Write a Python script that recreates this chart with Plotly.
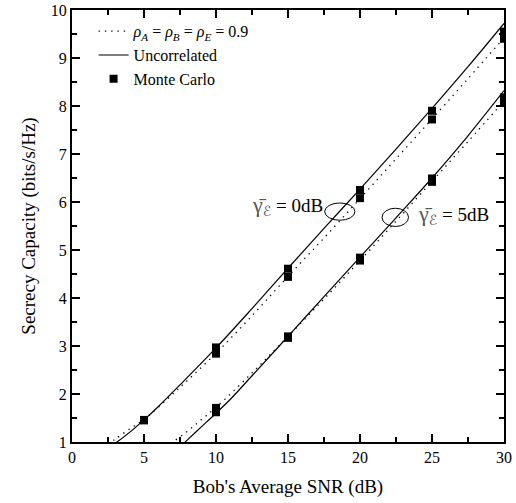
import plotly.graph_objects as go

# Analytical curves, γE = 0 dB
snr_unc_0 = [2.5, 3, 4, 5, 6, 7.5, 10, 12.5, 15, 17.5, 20, 22.5, 25, 27.5, 30]
cap_unc_0 = [0.86, 0.97, 1.2, 1.46, 1.74, 2.19, 2.96, 3.78, 4.62, 5.45, 6.27, 7.1, 7.95, 8.82, 9.72]
snr_cor_0 = [2.5, 3, 4, 5, 7.5, 10, 12.5, 15, 17.5, 20, 22.5, 25, 27.5, 30]
cap_cor_0 = [0.95, 1.06, 1.27, 1.47, 2.14, 2.85, 3.63, 4.45, 5.25, 6.07, 6.9, 7.73, 8.57, 9.42]

# Analytical curves, γE = 5 dB
snr_unc_5 = [7.5, 8, 9, 10, 11, 12.5, 15, 17.5, 20, 22.5, 25, 27.5, 30]
cap_unc_5 = [0.9, 1.04, 1.32, 1.6, 1.89, 2.38, 3.2, 4.03, 4.85, 5.67, 6.5, 7.38, 8.32]
snr_cor_5 = [6.5, 7, 8, 9, 10, 12.5, 15, 17.5, 20, 22.5, 25, 27.5, 30]
cap_cor_5 = [0.9, 1.0, 1.22, 1.47, 1.72, 2.44, 3.2, 3.98, 4.78, 5.6, 6.43, 7.26, 8.1]

# Monte Carlo simulation points
mc_snr = [5, 10, 15, 20, 25, 30]
mc_unc_0 = [1.46, 2.97, 4.61, 6.25, 7.90, 9.55]
mc_cor_0 = [1.45, 2.84, 4.44, 6.08, 7.72, 9.40]
mc_snr_5 = [10, 15, 20, 25, 30]
mc_unc_5 = [1.62, 3.20, 4.84, 6.49, 8.18]
mc_cor_5 = [1.71, 3.17, 4.78, 6.42, 8.08]

# Ellipses marking the two curve families: (center x, center y, half width, half height)
ellipse_0 = [18.6, 5.8, 1.05, 0.18]
ellipse_5 = [22.45, 5.68, 0.92, 0.19]

FONT = "Liberation Serif"
dotted = dict(color="black", width=1.3, dash="1.3px,5px")
solid = dict(color="black", width=1.2)

fig = go.Figure()

fig.add_trace(go.Scatter(x=snr_cor_0, y=cap_cor_0, mode="lines", line=dotted, line_shape="spline",
                         name="<i>ρ</i><sub><i>A</i></sub> = <i>ρ</i><sub><i>B</i></sub> = <i>ρ</i><sub><i>E</i></sub> = 0.9",
                         legendrank=1))
fig.add_trace(go.Scatter(x=snr_cor_5, y=cap_cor_5, mode="lines", line=dotted, line_shape="spline",
                         showlegend=False))
fig.add_trace(go.Scatter(x=snr_unc_0, y=cap_unc_0, mode="lines", line=solid, line_shape="spline",
                         name="Uncorrelated", legendrank=2))
fig.add_trace(go.Scatter(x=snr_unc_5, y=cap_unc_5, mode="lines", line=solid, line_shape="spline",
                         showlegend=False))

mk = dict(symbol="square", size=8, color="black")
fig.add_trace(go.Scatter(x=mc_snr, y=mc_unc_0, mode="markers", marker=mk, name="Monte Carlo", legendrank=3))
fig.add_trace(go.Scatter(x=mc_snr, y=mc_cor_0, mode="markers", marker=mk, showlegend=False))
fig.add_trace(go.Scatter(x=mc_snr_5, y=mc_unc_5, mode="markers", marker=mk, showlegend=False))
fig.add_trace(go.Scatter(x=mc_snr_5, y=mc_cor_5, mode="markers", marker=mk, showlegend=False))

for cx, cy, hw, hh in (ellipse_0, ellipse_5):
    fig.add_shape(type="circle", xref="x", yref="y", x0=cx - hw, x1=cx + hw, y0=cy - hh, y1=cy + hh,
                  line=dict(color="black", width=1))

gamma = ("<span style=\"color:#555;font-size:22px\">γ\u0304</span>"
         "<sub><span style=\"font-family:'DejaVu Sans';font-size:14px;color:#555\">ℰ</span></sub>")
fig.add_annotation(x=17.6, y=5.92, xref="x", yref="y", text=gamma + " = 0dB", showarrow=False,
                   xanchor="right", yanchor="middle", font=dict(family=FONT, size=19, color="black"))
fig.add_annotation(x=23.9, y=5.75, xref="x", yref="y", text=gamma + " = 5dB", showarrow=False,
                   xanchor="left", yanchor="middle", font=dict(family=FONT, size=19, color="black"))

axis_common = dict(showline=True, linecolor="black", linewidth=2, mirror="ticks",
                   ticks="inside", ticklen=8, tickwidth=1.5, tickcolor="black",
                   showgrid=False, zeroline=False, automargin=False,
                   tickfont=dict(family=FONT, size=16, color="black"))

fig.update_xaxes(range=[0, 30], dtick=5, tick0=0,
                 minor=dict(dtick=2.5, ticks="inside", ticklen=5, tickwidth=1.5, tickcolor="black", showgrid=False),
                 title=dict(text="Bob's Average SNR (dB)", font=dict(family=FONT, size=19, color="black"), standoff=14),
                 **axis_common)
fig.update_yaxes(range=[1, 10], dtick=1, tick0=0,
                 minor=dict(dtick=0.5, ticks="inside", ticklen=5, tickwidth=1.5, tickcolor="black", showgrid=False),
                 title=dict(text="Secrecy Capacity (bits/s/Hz)", font=dict(family=FONT, size=19, color="black"), standoff=10),
                 **axis_common)

fig.update_layout(
    width=516, height=503,
    margin=dict(l=72, r=12, t=10, b=61),
    plot_bgcolor="white", paper_bgcolor="white",
    legend=dict(x=0.05, y=0.99, xanchor="left", yanchor="top", bgcolor="rgba(0,0,0,0)",
                font=dict(family=FONT, size=16, color="black"), tracegroupgap=0,
                itemwidth=30, traceorder="normal"),
    showlegend=True,
)

fig.write_html("out.html")
